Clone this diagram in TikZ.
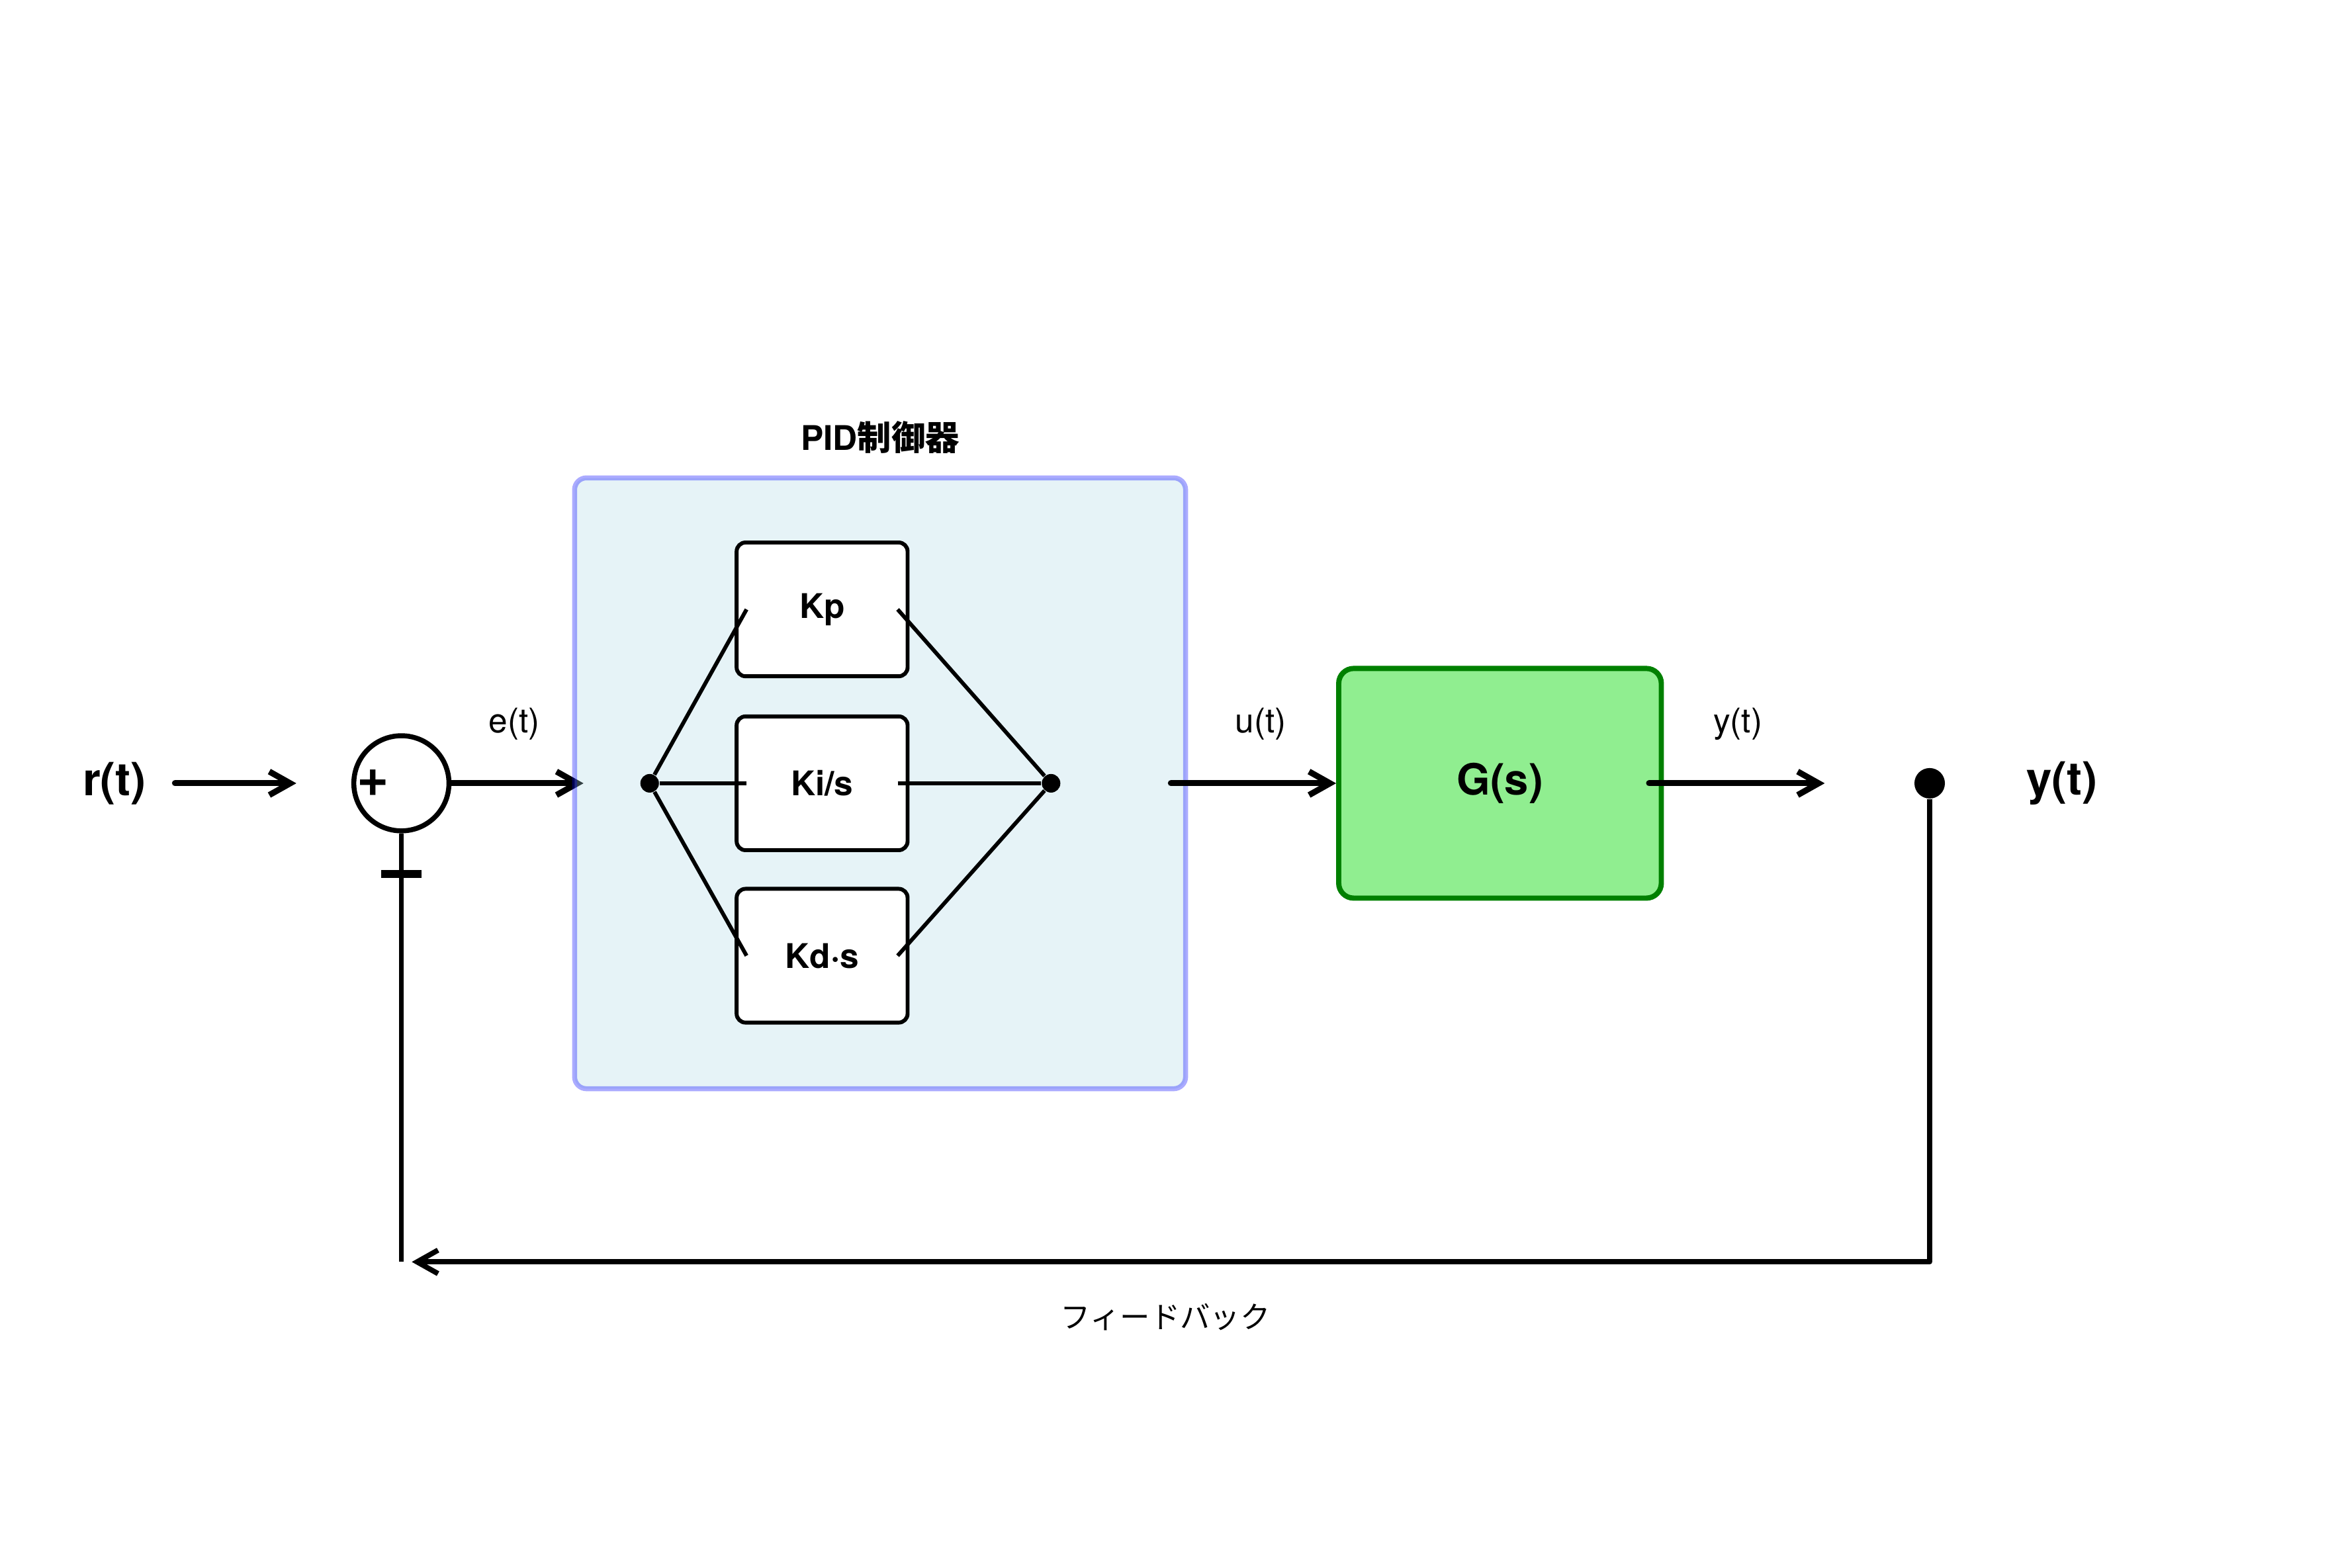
\documentclass[tikz,border=0pt]{standalone}
\usepackage{fontspec}
\setmainfont{TeX Gyre Heros}
\newfontfamily\jpfont{Noto Sans CJK JP}
\usetikzlibrary{positioning,arrows.meta}
\definecolor{pidfill}{HTML}{ADD8E6}
\definecolor{piddraw}{HTML}{0000FF}
\definecolor{plantfill}{HTML}{90EE90}
\definecolor{plantdraw}{HTML}{008000}

\begin{document}
\begin{tikzpicture}[node distance=2cm, on grid,
    >={Straight Barb[length=8pt,width=9pt]},
    sig/.style={->, line width=2.3pt, line cap=round},
    wire/.style={line width=1.5pt},
    fbwire/.style={line width=1.9pt},
    gain/.style={draw, fill=white, line width=1.5pt, rounded corners=0.12cm,
      minimum width=2.3cm, minimum height=1.8cm,
      font=\fontsize{13pt}{15pt}\selectfont\bfseries},
    dot/.style={circle, fill=black, inner sep=0pt, minimum size=0.25cm},
    lbl/.style={font=\fontsize{13pt}{15pt}\selectfont},
    biglbl/.style={font=\fontsize{17.5pt}{20pt}\selectfont\bfseries, inner sep=0pt}]

    \useasboundingbox (-5.4,-10.556) rectangle (25.973,10.54);

    % summing junction
    \node[circle, draw, fill=white, line width=1.9pt, minimum size=1.28cm] (sum) at (0,0) {};
    \node[biglbl] (r) [left=3.86cm of sum] {r(t)};
    \node[font=\fontsize{21pt}{23pt}\selectfont\bfseries, inner sep=0pt] (plus) at ([xshift=0.29cm]sum.west) {+};
    \draw[line width=3pt] ([xshift=-0.27cm,yshift=-0.55cm]sum.south) -- ([xshift=0.27cm,yshift=-0.55cm]sum.south);

    \coordinate[right=3.34cm of sum] (splitpt);
    \draw[sig, shorten <=0.38cm, shorten >=0.74cm] (r) -- (sum);
    \draw[sig, shorten >=0.89cm] (sum) -- (splitpt);

    % PID controller
    \node[draw=piddraw, draw opacity=0.33, fill=pidfill, fill opacity=0.3, line width=1.9pt,
        rounded corners=0.16cm, minimum size=8.22cm] (pid) [right=6.44cm of sum] {};
    \node[anchor=base, font=\fontsize{13pt}{15pt}\selectfont\bfseries] (pidtitle) at ([yshift=0.34cm]pid.north) {PID{\jpfont 制御器}};

    \node[dot] (split) at (splitpt) {};
    \node[gain] (ki) [right=2.32cm of split] {Ki/s};
    \node[gain] (kp) [above=2.34cm of ki] {Kp};
    \node[gain] (kd) [below=2.32cm of ki] {Kd·s};
    \node[dot] (join) [right=3.08cm of ki] {};

    \foreach \g in {kp,ki,kd} {
        \draw[wire] (split) -- ([xshift=0.16cm]\g.west);
        \draw[wire] ([xshift=-0.16cm]\g.east) -- (join);
    }

    % plant
    \node[draw=plantdraw, fill=plantfill, line width=2pt, rounded corners=0.2cm,
        minimum width=4.34cm, minimum height=3.09cm,
        font=\fontsize{16.5pt}{19pt}\selectfont\bfseries] (plant) [right=6.04cm of join] {G(s)};
    \node[dot, minimum size=0.41cm] (ydot) [right=5.78cm of plant] {};
    \node[biglbl] (y) [right=1.78cm of ydot] {y(t)};

    % signal labels
    \node[lbl] (e) [above right=0.8cm and 1.52cm of sum] {e(t)};
    \node[lbl] (u) [above right=0.8cm and 2.82cm of join] {u(t)};
    \node[lbl] (yout) [above right=0.8cm and 3.2cm of plant] {y(t)};

    \draw[sig, shorten <=1.48cm] (join) -- (plant);
    \draw[sig, shorten <=-0.2cm, shorten >=1.2cm] (plant) -- (ydot);

    % feedback path
    \coordinate[below=6.44cm of sum] (fbl);
    \coordinate[below=6.44cm of ydot] (fbr);
    \draw[fbwire] (ydot) -- (fbr);
    \draw[fbwire] (sum) -- (fbl);
    \draw[sig, line width=2pt, shorten >=0.14cm] (fbr) -- (fbl)
        node[midway, yshift=-0.74cm, font=\fontsize{11.5pt}{13pt}\selectfont\jpfont] (fblabel) {フィードバック};

\end{tikzpicture}
\end{document}
